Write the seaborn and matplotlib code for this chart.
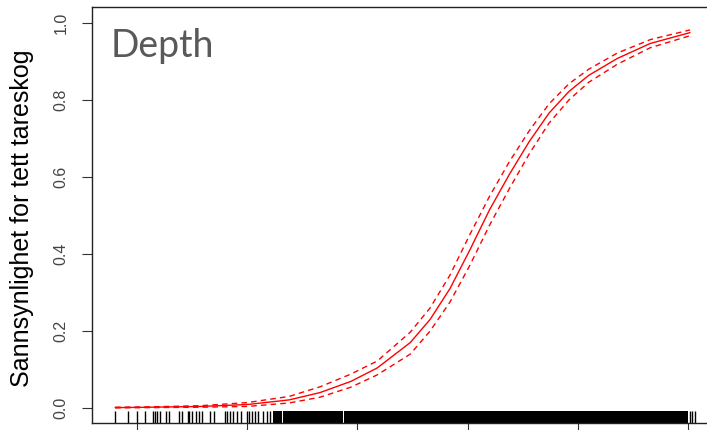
import matplotlib
matplotlib.use("Agg")
import matplotlib.pyplot as plt
import seaborn as sns
import pandas as pd
import numpy as np

sns.set_style("white")
plt.rcParams['font.family'] = ['Liberation Sans', 'DejaVu Sans']

# fitted probability of dense kelp forest vs depth
depth = [-26.0, -24.4, -22.1, -20.0, -18.1, -16.7, -15.3, -14.1, -12.6, -11.7,
         -10.8, -9.9, -9.0, -8.1, -7.2, -6.3, -5.4, -4.5, -3.2, -1.7, 0.1]
fit = [0.001, 0.002, 0.004, 0.009, 0.021, 0.040, 0.069, 0.104, 0.170, 0.230,
       0.310, 0.410, 0.515, 0.607, 0.692, 0.766, 0.822, 0.864, 0.908, 0.947, 0.975]
upper = [0.002, 0.003, 0.006, 0.014, 0.030, 0.055, 0.088, 0.122, 0.197, 0.260,
         0.345, 0.450, 0.550, 0.640, 0.720, 0.790, 0.842, 0.880, 0.922, 0.957, 0.982]
lower = [0.0003, 0.001, 0.002, 0.004, 0.013, 0.028, 0.054, 0.086, 0.140, 0.200,
         0.275, 0.370, 0.475, 0.570, 0.660, 0.740, 0.800, 0.846, 0.893, 0.936, 0.967]

# rug: single observations in the sparse deep part
rug_sparse = [-26.0, -25.4, -25.0, -24.65, -24.3, -24.2, -24.1, -23.95, -23.7, -23.55,
              -23.1, -22.95, -22.7, -22.65, -22.5, -22.35, -22.2, -22.05, -21.7, -21.5,
              -21.0, -20.9, -20.8, -20.65, -20.45, -20.3, -20.0, -19.9, -19.8, -19.65,
              -19.5, -19.3, -19.1, -18.95, 0.09, 0.18, 0.32]
# rug: depth ranges so densely sampled that the ticks merge into a solid block
rug_blocks = [(-18.83, -18.44), (-18.40, -17.40), (-17.36, -17.08), (-17.04, -16.72),
              (-16.68, -16.31), (-16.27, -15.67), (-15.63, -15.22), (-15.18, -14.13),
              (-14.09, -12.77), (-12.73, 0.0)]

x_ticks = [-25, -20, -15, -10, -5, 0]
y_ticks = [0.0, 0.2, 0.4, 0.6, 0.8, 1.0]

df = pd.DataFrame({'depth': depth, 'fit': fit, 'upper': upper, 'lower': lower})

fig = plt.figure(figsize=(7.07, 4.30), dpi=100)
ax = fig.add_axes([92 / 707, 7 / 430, 626 / 707, 416 / 430])

sns.lineplot(data=df, x='depth', y='fit', ax=ax, color='red', lw=1.0, sort=False)
for col in ['upper', 'lower']:
    sns.lineplot(data=df, x='depth', y=col, ax=ax, color='red', lw=1.0,
                 linestyle=(0, (4, 3)), sort=False)

sns.rugplot(x=rug_sparse, ax=ax, height=0.03, color='black', lw=0.8,
            expand_margins=False)
for a, b in rug_blocks:
    ax.axvspan(a, b, ymin=0, ymax=0.03, color='black', lw=0)

ax.set_xlim(-27.05, 1.37)
ax.set_ylim(-0.039, 1.0416)
ax.set_xticks(x_ticks)
ax.set_xticklabels([])
ax.set_yticks(y_ticks)
ax.set_yticklabels([f'{v:.1f}' for v in y_ticks], rotation=90, va='center',
                   fontsize=11.5, color='#444444')
ax.tick_params(axis='both', direction='out', length=7, width=0.8, color='#333333',
               left=True, bottom=True, pad=10)
ax.set_xlabel('')
ax.set_ylabel('Sannsynlighet for tett tareskog', fontsize=18, color='black')
ax.yaxis.set_label_coords(-0.093, 0.493)

for s in ax.spines.values():
    s.set_color('#222222')
    s.set_linewidth(1.0)

ax.text(0.029, 0.880, 'Depth', transform=ax.transAxes, fontsize=27,
        color='#595959', family=['Lato', 'DejaVu Sans'], va='baseline')

fig.savefig('out.png', dpi=100)
